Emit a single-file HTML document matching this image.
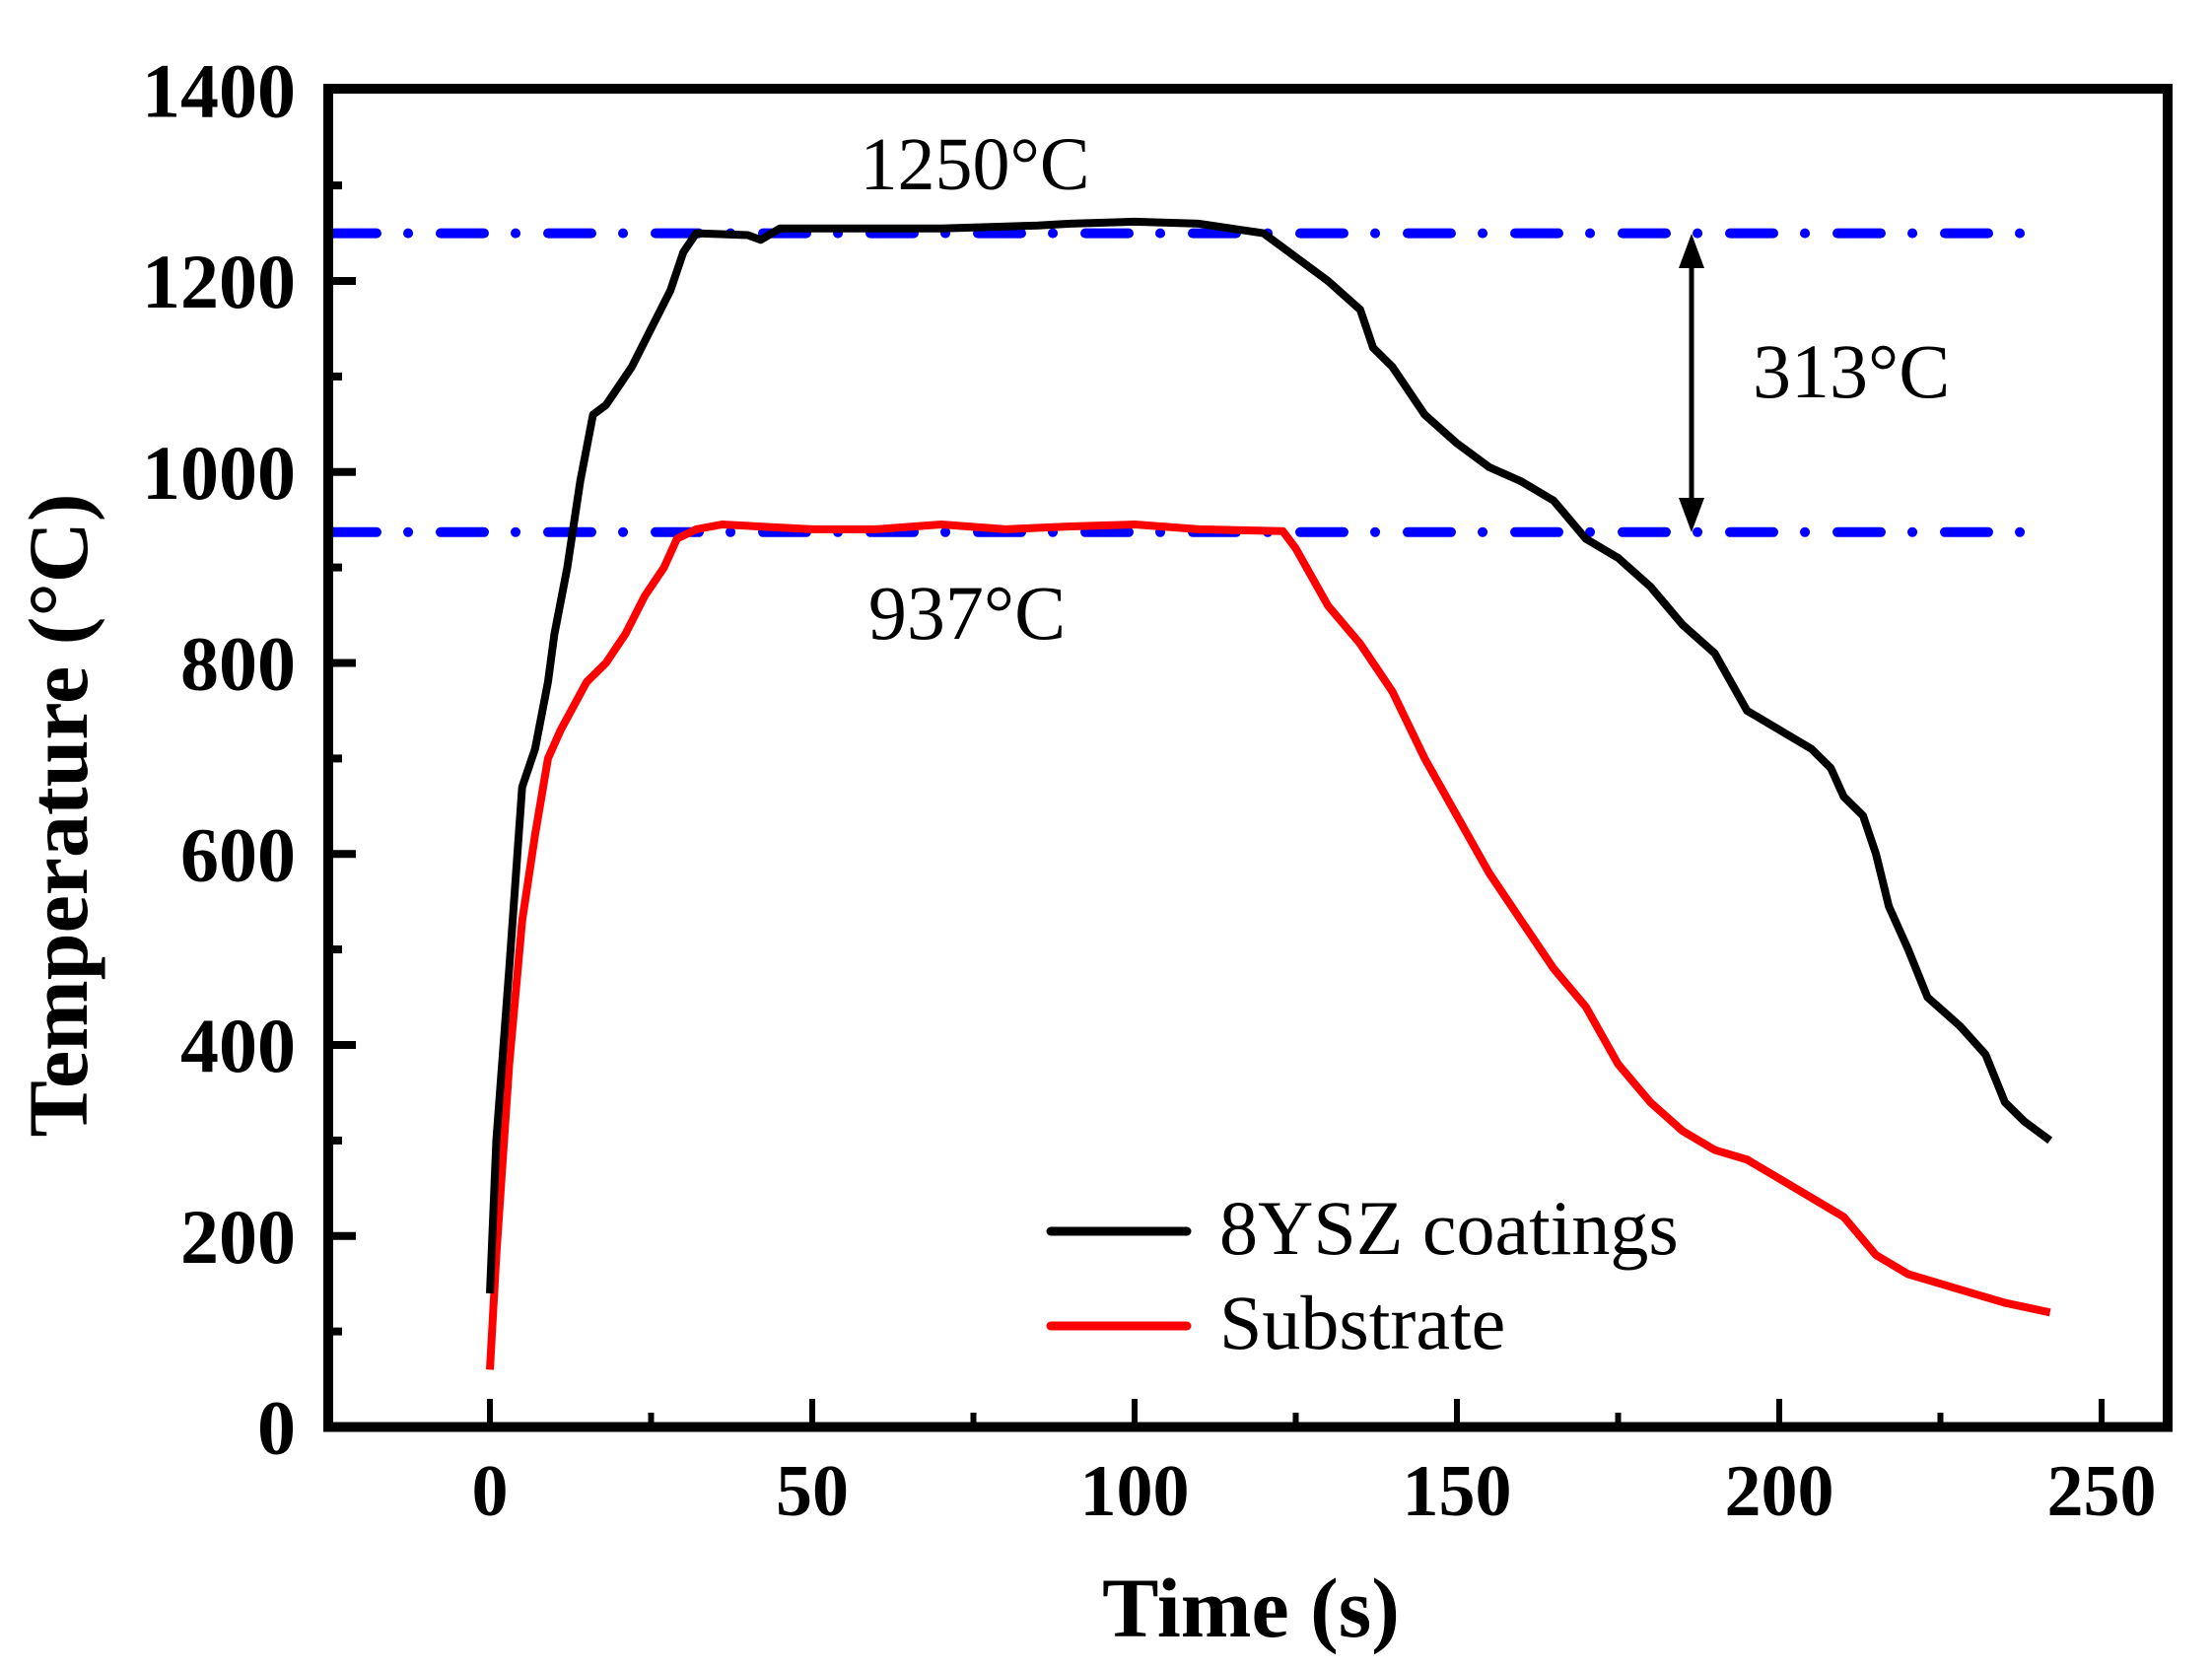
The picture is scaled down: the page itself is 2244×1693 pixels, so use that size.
<!DOCTYPE html>
<html><head><meta charset="utf-8"><style>html,body{margin:0;padding:0;background:#fff}svg{display:block}</style></head>
<body>
<svg width="2244" height="1693" viewBox="0 0 2244 1693" xmlns="http://www.w3.org/2000/svg" font-family="Liberation Serif, serif">
<rect width="2244" height="1693" fill="#fff"/>
<line x1="338" x2="2062" y1="236.6" y2="236.6" stroke="#0000ff" stroke-width="10" stroke-linecap="round" stroke-dasharray="44 32 0.1 32.9"/>
<line x1="338" x2="2062" y1="539.8" y2="539.8" stroke="#0000ff" stroke-width="10" stroke-linecap="round" stroke-dasharray="44 32 0.1 32.9"/>
<polyline fill="none" stroke="#ff0000" stroke-width="8" stroke-linejoin="round" points="497,1389.4 503.5,1273.1 516.6,1079.4 529.7,934.1 542.8,846.9 555.9,769.4 568.9,740.3 595.1,691.9 614.7,672.5 634.3,643.4 654,604.7 673.6,575.6 686.7,546.6 706.3,536.9 732.4,532 824,536.9 889.4,536.9 954.8,532 1020.2,536.9 1085.6,534 1151,532 1216.4,536.9 1301.4,538.8 1314.5,556.3 1347.2,614.4 1379.9,653.1 1412.6,701.6 1445.3,769.4 1478,827.5 1510.7,885.6 1543.4,934.1 1576.1,982.5 1608.8,1021.3 1641.5,1079.4 1674.2,1118.1 1706.9,1147.2 1739.6,1166.6 1772.3,1176.25 1805,1195.6 1837.7,1215 1870.4,1234.4 1903.1,1273.1 1935.8,1292.5 1968.5,1302.2 2001.2,1311.9 2033.9,1321.6 2079.7,1331.3"/>
<polyline fill="none" stroke="#000" stroke-width="8" stroke-linejoin="round" points="497,1311.9 503.5,1156.9 516.6,982.5 529.7,798.4 542.8,759.7 555.9,691.9 562.4,643.4 575.5,575.6 588.6,488.4 601.6,420.6 614.7,410.9 627.8,391.6 640.9,372.2 660.5,333.4 680.1,294.7 693.2,255.9 706.3,236.6 758.6,238.5 771.7,243.3 791.3,231.7 856.7,231.7 954.8,231.7 1052.9,228.8 1085.6,226.9 1151,224.9 1216.4,226.9 1281.8,236.6 1314.5,260.8 1347.2,285 1379.9,314.1 1393,352.8 1412.6,372.2 1445.3,420.6 1478,449.7 1510.7,473.9 1543.4,488.4 1576.1,507.8 1608.8,546.6 1641.5,565.9 1674.2,595 1706.9,633.75 1739.6,662.8 1772.3,720.9 1805,740.3 1837.7,759.7 1857.3,779.1 1870.4,808.1 1890,827.5 1903.1,866.25 1916.2,919.5 1935.8,963.1 1955.4,1011.6 1988.1,1040.6 2014.3,1069.7 2033.9,1118.1 2053.5,1137.5 2079.7,1156.9"/>
<g stroke="#000" stroke-width="6">
<line x1="497" x2="497" y1="1447" y2="1419"/><line x1="660.5" x2="660.5" y1="1447" y2="1433"/>
<line x1="824" x2="824" y1="1447" y2="1419"/><line x1="987.5" x2="987.5" y1="1447" y2="1433"/>
<line x1="1151" x2="1151" y1="1447" y2="1419"/><line x1="1314.5" x2="1314.5" y1="1447" y2="1433"/>
<line x1="1478" x2="1478" y1="1447" y2="1419"/><line x1="1641.5" x2="1641.5" y1="1447" y2="1433"/>
<line x1="1805" x2="1805" y1="1447" y2="1419"/><line x1="1968.5" x2="1968.5" y1="1447" y2="1433"/>
<line x1="2132" x2="2132" y1="1447" y2="1419"/>
</g>
<g stroke="#000" stroke-width="8">
<line x1="333" x2="347" y1="1350.6" y2="1350.6"/><line x1="333" x2="361" y1="1253.75" y2="1253.75"/>
<line x1="333" x2="347" y1="1156.9" y2="1156.9"/><line x1="333" x2="361" y1="1060" y2="1060"/>
<line x1="333" x2="347" y1="963.1" y2="963.1"/><line x1="333" x2="361" y1="866.25" y2="866.25"/>
<line x1="333" x2="347" y1="769.4" y2="769.4"/><line x1="333" x2="361" y1="672.5" y2="672.5"/>
<line x1="333" x2="347" y1="575.6" y2="575.6"/><line x1="333" x2="361" y1="478.75" y2="478.75"/>
<line x1="333" x2="347" y1="381.9" y2="381.9"/><line x1="333" x2="361" y1="285" y2="285"/>
<line x1="333" x2="347" y1="188.1" y2="188.1"/>
</g>
<rect x="333" y="90" width="1866" height="1357.5" fill="none" stroke="#000" stroke-width="10"/>
<g font-size="74" font-weight="bold" text-anchor="middle">
<text x="497" y="1537">0</text><text x="824" y="1537">50</text><text x="1151" y="1537">100</text>
<text x="1478" y="1537">150</text><text x="1805" y="1537">200</text><text x="2132" y="1537">250</text>
</g>
<g font-size="78" font-weight="bold" text-anchor="end">
<text x="300" y="1474.5">0</text><text x="300" y="1280.75">200</text><text x="300" y="1087">400</text>
<text x="300" y="893.25">600</text><text x="300" y="699.5">800</text><text x="300" y="505.75">1000</text>
<text x="300" y="312">1200</text><text x="300" y="118.25">1400</text>
</g>
<line x1="1716" x2="1716" y1="262" y2="515" stroke="#000" stroke-width="5"/>
<polygon points="1716,237 1703,272 1729,272" fill="#000"/>
<polygon points="1716,540 1703,505 1729,505" fill="#000"/>
<text x="989" y="192" font-size="76" text-anchor="middle">1250°C</text>
<text x="981" y="648" font-size="78" text-anchor="middle">937°C</text>
<text x="1778" y="403" font-size="78">313°C</text>
<line x1="1066" x2="1204" y1="1249" y2="1249" stroke="#000" stroke-width="9" stroke-linecap="round"/>
<line x1="1066" x2="1204" y1="1345" y2="1345" stroke="#ff0000" stroke-width="9" stroke-linecap="round"/>
<text x="1237" y="1272" font-size="78">8YSZ coatings</text>
<text x="1237" y="1368" font-size="78">Substrate</text>
<text x="1269" y="1660" font-size="86" font-weight="bold" text-anchor="middle">Time (s)</text>
<text transform="translate(88,827) rotate(-90)" font-size="86" font-weight="bold" text-anchor="middle">Temperature (°C)</text>
</svg>
</body></html>
